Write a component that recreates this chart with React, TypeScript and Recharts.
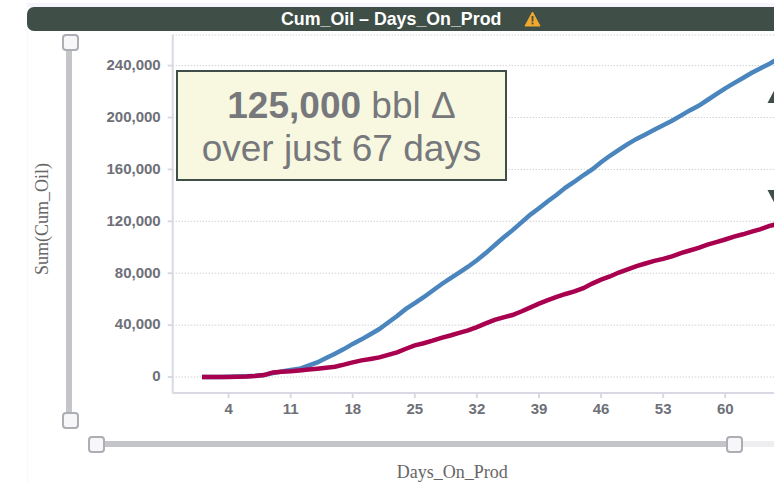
import React from 'react';
import { LineChart, Line, XAxis, YAxis, CartesianGrid } from 'recharts';

const days = [
  1, 2, 3, 4, 5, 6, 7, 8, 9, 10, 11, 12, 13, 14, 15, 16, 17, 18, 19, 20, 21, 22,
  23, 24, 25, 26, 27, 28, 29, 30, 31, 32, 33, 34, 35, 36, 37, 38, 39, 40, 41, 42, 43, 44,
  45, 46, 47, 48, 49, 50, 51, 52, 53, 54, 55, 56, 57, 58, 59, 60, 61, 62, 63, 64, 65, 66,
];
const upperOil = [
  0, 0, 0, 100, 300, 600, 900, 1500, 3000, 4200, 5400, 6300, 8800, 11200, 14600, 18000, 21500, 25500, 29000, 33000, 37000, 42000,
  47000, 52500, 57000, 61500, 66500, 71500, 76000, 80500, 85000, 90000, 95500, 101500, 107500, 113000, 119000, 125000, 130000, 135500, 140500, 146000, 150500, 155500,
  160000, 165500, 170500, 175000, 179500, 183500, 187000, 190500, 194000, 197500, 201500, 205500, 209000, 213500, 218000, 222500, 226500, 230500, 234500, 238000, 241500, 245500,
];
const lowerOil = [
  0, 0, 0, 0, 100, 300, 700, 1500, 3500, 4000, 4400, 5000, 5700, 6400, 7200, 7900, 9500, 11300, 12800, 13900, 15100, 17000,
  19000, 21800, 24400, 26000, 28000, 30200, 32000, 34000, 36000, 38500, 41300, 44000, 46000, 47800, 50500, 53500, 56500, 59200, 61800, 64000, 66000, 68500,
  72000, 75000, 77500, 80500, 83000, 85500, 87500, 89500, 91000, 93000, 95500, 97500, 99500, 102000, 104000, 106000, 108200, 110000, 112000, 114000, 116500, 118000,
];
const xTicks = [4, 11, 18, 25, 32, 39, 46, 53, 60];
const yTicks = [0, 40000, 80000, 120000, 160000, 200000, 240000];

const tableData = days.map((day, i) => ({ day, upper: upperOil[i], lower: lowerOil[i] }));

const tickStyle = { fill: '#6e7078', fontFamily: '"Liberation Sans", Arial, sans-serif', fontSize: 15, fontWeight: 700 };
const labelStyle = { fill: '#666', fontFamily: '"Liberation Serif", serif', fontSize: 18 };
const axisColor = '#d9d9e3';
const dark = '#3f4f47';

const box = (left: number, top: number, width: number, height: number, extra: React.CSSProperties = {}): React.CSSProperties => ({
  position: 'absolute', left, top, width, height, boxSizing: 'border-box', ...extra,
});

const Handle = ({ left, top }: { left: number; top: number }) => (
  <div style={box(left, top, 17, 17, { background: '#f7f7f9', border: '2px solid #adaeb4', borderRadius: 4 })} />
);

export default function App() {
  return (
    <div style={{ position: 'absolute', left: 0, top: 0, width: 774, height: 483, overflow: 'hidden', background: '#fff' }}>
      <div style={box(27, 3, 747, 4, { background: '#f5f5fb' })} />
      <div style={box(27, 7, 760, 24, { background: dark, borderRadius: 7, color: '#fff', fontFamily: '"Liberation Sans", Arial, sans-serif', fontWeight: 700, fontSize: 17.8, lineHeight: '24px' })}>
        <span style={{ position: 'absolute', left: 254, top: 0, whiteSpace: 'nowrap' }}>Cum_Oil – Days_On_Prod</span>
        <svg style={{ position: 'absolute', left: 497, top: 4 }} width={17} height={16}>
          <path d="M8.5 1 L16 15 L1 15 Z" fill="#f2a72e" stroke="#f2a72e" strokeLinejoin="round" />
          <rect x={7.6} y={5} width={1.8} height={5.5} fill={dark} />
          <rect x={7.6} y={11.5} width={1.8} height={1.8} fill={dark} />
        </svg>
      </div>
      <div style={box(27, 31, 1, 452, { background: '#f8f8fb' })} />

      <LineChart
        width={774}
        height={483}
        data={tableData}
        margin={{ top: 35, right: 0, bottom: 0, left: 0 }}
        style={{ position: 'absolute', left: 0, top: 0 }}
      >
        <CartesianGrid vertical={false} stroke="#bdbdbd" strokeDasharray="1 2" />
        <XAxis
          dataKey="day"
          type="number"
          domain={[-2.3, 65.5]}
          allowDataOverflow
          ticks={xTicks}
          interval={0}
          height={90}
          tickSize={5}
          tickMargin={5}
          stroke={axisColor}
          strokeWidth={2}
          tick={tickStyle}
          label={{ value: 'Days_On_Prod', position: 'insideBottom', offset: 5, dx: -21, style: labelStyle }}
        />
        <YAxis
          type="number"
          domain={[-12330, 263600]}
          allowDataOverflow
          ticks={yTicks}
          interval={0}
          width={172.7}
          tickSize={5}
          tickMargin={7}
          stroke={axisColor}
          strokeWidth={2}
          tick={{ ...tickStyle, dy: -1 }}
          tickFormatter={(v: number) => v.toLocaleString('en-US')}
          label={{ value: 'Sum(Cum_Oil)', angle: -90, position: 'insideLeft', offset: 0, dx: 42, dy: 5, style: { ...labelStyle, textAnchor: 'middle' } }}
        />
        <Line dataKey="upper" type="linear" stroke="#4a86bd" strokeWidth={4.5} dot={false} isAnimationActive={false} />
        <Line dataKey="lower" type="linear" stroke="#a8004f" strokeWidth={4.5} dot={false} isAnimationActive={false} />
      </LineChart>

      <div style={box(66, 44, 6, 372, { background: '#c4c5c9' })} />
      <Handle left={62} top={34} />
      <Handle left={62} top={412} />
      <div style={box(96, 441, 636, 6, { background: '#c4c5c9' })} />
      <div style={box(732, 441, 42, 6, { background: '#eeeef1' })} />
      <Handle left={88} top={436} />
      <Handle left={726} top={436} />

      <div style={box(176, 70, 331, 111, { background: '#f8f8e0', border: `2px solid ${dark}`, color: '#77787c', fontFamily: '"Liberation Sans", Arial, sans-serif', fontSize: 37, lineHeight: '43px', textAlign: 'center', paddingTop: 12, whiteSpace: 'nowrap' })}>
        <div><b>125,000</b> bbl Δ</div>
        <div>over just 67 days</div>
      </div>

      <svg style={{ position: 'absolute', left: 0, top: 0 }} width={774} height={483} pointerEvents="none">
        <path d="M767.5 103 L775 89 L775 103 Z" fill={dark} />
        <path d="M767.5 190 L775 190 L775 204 Z" fill={dark} />
      </svg>
    </div>
  );
}
